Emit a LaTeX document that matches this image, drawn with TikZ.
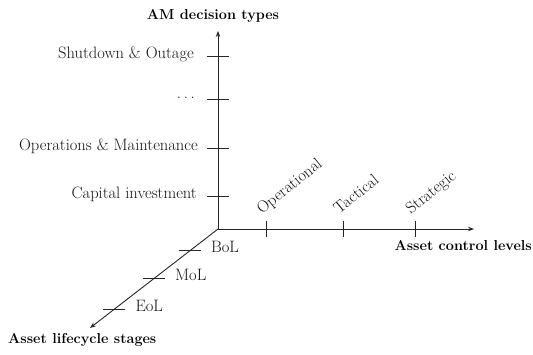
\documentclass[tikz,border=0pt]{standalone}
\usepackage{fontspec}
\usetikzlibrary{arrows.meta}
\begin{document}
\begin{tikzpicture}[x=1pt,y=-1pt,
  axis/.style={line width=0.9pt, draw=black!85, -{Stealth[length=6pt,width=4.5pt]}},
  tickline/.style={line width=0.9pt, draw=black!85},
  lbl/.style={font=\fontsize{16.5}{19}\selectfont, text=black!92, inner sep=0pt},
  ttl/.style={font=\fontsize{14.4}{17}\selectfont\bfseries, text=black, inner sep=0pt},
  rlbl/.style={lbl, rotate=39, anchor=base west}]
\useasboundingbox (0,0) rectangle (533,354);
% axes
\coordinate (O) at (218,229);
\coordinate (Ytip) at (218,31);
\coordinate (Xtip) at (474,229);
\coordinate (Ztip) at (90,328);
\draw[axis] (O) -- (Ytip);
\draw[axis] (O) -- (Xtip);
\draw[axis] (O) -- (Ztip);
% vertical ticks
\foreach \n/\y in {sd/56, dots/99, om/148, ci/196}{
  \coordinate (\n) at (218,\y);
  \draw[tickline] ([xshift=-11pt]\n) -- ([xshift=11pt]\n);
}
\node[lbl, anchor=mid east] (sdl) at (194,56) {Shutdown \& Outage};
\node[lbl, anchor=mid east] (dotsl) at (195,96) {.\,.\,.};
\node[lbl, anchor=mid east] (oml) at (198,148) {Operations \& Maintenance};
\node[lbl, anchor=mid east] (cil) at (197,196) {Capital investment};
% horizontal ticks
\foreach \n/\x in {op/266, ta/343, st/415}{
  \coordinate (\n) at (\x,229);
  \draw[tickline] ([yshift=-8pt]\n) -- ([yshift=8pt]\n);
}
\node[rlbl] (opl) at (262,215) {Operational};
\node[rlbl] (tal) at (339,215) {Tactical};
\node[rlbl] (stl) at (411,215) {Strategic};
% diagonal ticks
\path (O) -- (Ztip) coordinate[pos=0.22] (bol) coordinate[pos=0.50] (mol) coordinate[pos=0.81] (eol);
\foreach \n in {bol, mol, eol}{
  \draw[tickline] ([xshift=-11pt]\n) -- ([xshift=11pt]\n);
}
\node[lbl, anchor=mid west] (boll) at ([xshift=21pt]bol) {BoL};
\node[lbl, anchor=mid west] (moll) at ([xshift=21pt]mol) {MoL};
\node[lbl, anchor=mid west] (eoll) at ([xshift=21pt]eol) {EoL};
% titles
\node[ttl] (yt) at (213,16) {AM decision types};
\node[ttl, anchor=mid east] (xt) at (532,248) {Asset control levels};
\node[ttl, anchor=mid west] (zt) at (8,341) {Asset lifecycle stages};
\end{tikzpicture}
\end{document}
